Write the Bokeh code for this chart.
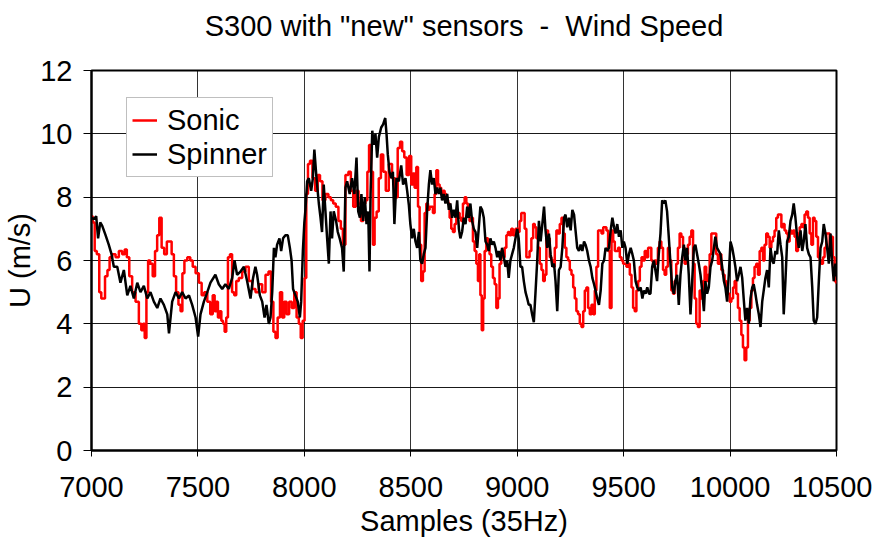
from bokeh.plotting import figure
from bokeh.models import Range1d, FixedTicker, Legend, LegendItem, Title
from bokeh.embed import file_html
from bokeh.resources import INLINE

FONT = "Liberation Sans"
FS = "29px"

title_text = 'S300 with "new" sensors \u00a0-\u00a0 Wind Speed'
x_label = "Samples (35Hz)"
y_label = "U (m/s)"
x_ticks = [7000, 7500, 8000, 8500, 9000, 9500, 10000, 10500]
y_ticks = [0, 2, 4, 6, 8, 10, 12]

# ---- Sonic anemometer (red) : sample index and wind speed (m/s) ----
sonic_samples = [
    7000, 7011, 7019, 7031, 7042, 7050, 7058, 7069, 7081, 7089, 7105, 7121, 7136, 7152, 7160,
    7172, 7183, 7199, 7215, 7230, 7238, 7246, 7254, 7262, 7270, 7282, 7293, 7304, 7313, 7324,
    7335, 7348, 7360, 7371, 7382, 7392, 7403, 7414, 7423, 7431, 7442, 7458, 7470, 7481, 7497,
    7512, 7523, 7536, 7552, 7564, 7575, 7582, 7590, 7598, 7606, 7614, 7622, 7629, 7637, 7645,
    7656, 7665, 7676, 7684, 7700, 7716, 7731, 7747, 7763, 7778, 7794, 7810, 7825, 7838, 7849,
    7860, 7869, 7880, 7891, 7900, 7911, 7922, 7935, 7947, 7958, 7969, 7979, 7987, 7997, 8005,
    8013, 8021, 8032, 8044, 8057, 8068, 8079, 8091, 8107, 8119, 8130, 8141, 8154, 8166, 8177,
    8185, 8201, 8213, 8224, 8235, 8248, 8261, 8271, 8282, 8292, 8300, 8308, 8319, 8326, 8334,
    8345, 8354, 8365, 8376, 8389, 8404, 8420, 8433, 8444, 8455, 8464, 8475, 8486, 8498, 8506,
    8514, 8522, 8530, 8538, 8545, 8553, 8561, 8569, 8577, 8585, 8592, 8600, 8608, 8616, 8624,
    8632, 8639, 8647, 8655, 8663, 8671, 8679, 8686, 8694, 8702, 8710, 8718, 8726, 8733, 8741,
    8749, 8757, 8765, 8772, 8780, 8788, 8796, 8804, 8812, 8819, 8824, 8830, 8837, 8843, 8851,
    8859, 8866, 8874, 8882, 8890, 8898, 8906, 8913, 8921, 8929, 8937, 8945, 8953, 8960, 8968,
    8976, 8984, 9000, 9007, 9015, 9023, 9031, 9039, 9047, 9054, 9062, 9071, 9079, 9086, 9094,
    9102, 9110, 9118, 9126, 9133, 9141, 9149, 9157, 9165, 9173, 9180, 9188, 9196, 9204, 9212,
    9220, 9227, 9235, 9243, 9251, 9259, 9267, 9274, 9282, 9290, 9298, 9306, 9314, 9321, 9329,
    9337, 9345, 9353, 9361, 9368, 9376, 9384, 9392, 9400, 9408, 9415, 9423, 9431, 9439, 9447,
    9455, 9462, 9470, 9478, 9486, 9494, 9501, 9509, 9517, 9525, 9533, 9541, 9548, 9556, 9564,
    9572, 9580, 9588, 9595, 9603, 9611, 9619, 9626, 9634, 9642, 9649, 9657, 9665, 9673, 9681,
    9689, 9696, 9704, 9712, 9720, 9728, 9736, 9743, 9751, 9759, 9767, 9775, 9783, 9790, 9798,
    9806, 9814, 9822, 9830, 9837, 9845, 9853, 9861, 9869, 9877, 9884, 9892, 9900, 9908, 9916,
    9924, 9931, 9939, 9947, 9955, 9963, 9971, 9978, 9986, 9994, 10002, 10010, 10018, 10025, 10033,
    10041, 10049, 10057, 10064, 10072, 10080, 10088, 10096, 10104, 10111, 10119, 10127, 10135, 10143, 10151,
    10158, 10166, 10174, 10182, 10190, 10198, 10205, 10213, 10221, 10229, 10237, 10245, 10252, 10260, 10268,
    10276, 10284, 10292, 10299, 10307, 10315, 10323, 10331, 10339, 10346, 10354, 10362, 10370, 10378, 10386,
    10393, 10401, 10409, 10417, 10425, 10433, 10440, 10448, 10456, 10464, 10472, 10479, 10487, 10495, 10500,
]
sonic_speed = [
    7.4, 7.2, 6.3, 6.2, 5.0, 4.8, 4.8, 5.5, 5.7, 6.1, 6.2, 6.1, 6.3, 6.2, 6.35,
    6.1, 5.5, 5.0, 4.7, 4.0, 3.8, 4.0, 3.55, 5.0, 6.0, 5.9, 5.5, 6.3, 6.8, 7.35,
    6.4, 6.2, 6.6, 6.6, 6.2, 5.5, 5.0, 4.6, 4.4, 5.6, 6.0, 6.1, 6.0, 5.8, 5.6,
    5.3, 4.9, 5.0, 4.7, 4.3, 4.9, 4.4, 4.7, 4.2, 4.4, 4.1, 4.0, 3.75, 4.2, 6.1,
    6.2, 5.0, 4.9, 5.35, 5.45, 5.65, 5.8, 5.35, 5.1, 5.0, 5.25, 5.0, 5.55, 5.65, 4.7,
    3.75, 3.55, 4.2, 5.0, 4.2, 4.7, 4.3, 4.7, 4.5, 5.0, 4.2, 4.0, 3.55, 4.1, 5.45,
    8.1, 9.05, 9.15, 8.6, 8.2, 8.7, 8.5, 7.9, 8.1, 8.0, 7.9, 7.8, 7.7, 7.25, 7.0,
    6.5, 8.7, 8.8, 8.2, 7.7, 8.2, 7.8, 7.25, 7.8, 7.9, 8.8, 9.65, 8.8, 6.5, 7.35,
    7.55, 8.6, 9.35, 8.8, 8.2, 9.05, 8.6, 8.0, 9.55, 9.75, 9.45, 9.25, 8.7, 9.3, 8.4,
    8.75, 8.3, 8.95, 7.7, 6.5, 5.35, 5.65, 7.5, 7.8, 7.6, 7.7, 7.7, 7.5, 8.1, 8.85,
    8.4, 8.3, 8.1, 8.2, 8.1, 7.9, 7.8, 7.35, 7.0, 6.9, 7.15, 7.35, 7.5, 7.35, 7.25,
    7.8, 8.0, 7.8, 7.5, 7.25, 7.35, 6.6, 6.3, 5.9, 5.35, 6.2, 4.9, 3.8, 4.8, 6.3,
    6.7, 6.5, 6.2, 5.8, 5.45, 5.25, 4.5, 4.8, 5.9, 6.3, 6.1, 6.4, 6.8, 6.9, 6.8,
    7.0, 6.8, 7.0, 6.9, 7.25, 7.5, 7.5, 7.0, 6.1, 6.1, 6.3, 6.7, 7.15, 7.05, 6.7,
    6.4, 5.9, 5.7, 5.35, 5.55, 6.95, 6.7, 6.1, 6.0, 5.8, 6.4, 6.95, 6.85, 7.15, 7.35,
    6.85, 6.4, 6.1, 6.0, 5.7, 5.55, 5.15, 4.8, 4.4, 4.3, 4.0, 3.9, 4.4, 5.05, 5.15,
    4.5, 4.3, 4.6, 4.3, 5.05, 5.8, 6.95, 6.95, 6.85, 7.05, 7.05, 6.95, 6.3, 4.5, 6.95,
    6.6, 6.3, 6.3, 6.4, 6.1, 6.0, 5.9, 5.9, 5.8, 5.9, 5.55, 5.15, 4.5, 4.4, 5.05,
    5.35, 5.8, 6.1, 6.0, 6.3, 6.1, 6.4, 6.4, 6.0, 5.8, 6.0, 5.9, 6.4, 6.6, 6.4,
    5.7, 5.55, 5.8, 6.4, 6.0, 5.05, 4.95, 5.35, 5.9, 6.4, 6.85, 6.75, 6.4, 5.9, 6.2,
    6.5, 6.75, 6.95, 5.9, 4.8, 4.0, 3.9, 5.05, 4.8, 5.35, 5.8, 5.35, 5.55, 6.2, 6.85,
    6.85, 6.85, 6.2, 5.9, 6.2, 5.7, 5.55, 5.35, 5.15, 4.95, 4.7, 4.8, 5.15, 5.35, 4.95,
    4.5, 4.1, 3.65, 3.25, 2.85, 3.25, 4.1, 4.5, 5.05, 5.45, 5.8, 5.9, 5.55, 6.3, 6.4,
    6.0, 6.5, 6.85, 6.75, 6.4, 6.6, 6.75, 6.95, 7.35, 7.45, 7.45, 7.05, 7.15, 6.95, 6.85,
    6.6, 6.95, 6.85, 6.95, 6.75, 6.3, 6.85, 7.05, 7.15, 7.05, 7.45, 7.55, 7.35, 6.85, 6.5,
    7.35, 7.25, 6.75, 6.1, 6.0, 5.9, 6.1, 6.4, 6.85, 6.85, 6.4, 6.75, 6.1, 5.35, 5.3,
]

# ---- Spinner (black) : sample index and wind speed (m/s) ----
spinner_samples = [
    7000, 7011, 7022, 7031, 7041, 7050, 7066, 7081, 7094, 7105, 7121, 7136, 7152, 7168, 7183,
    7199, 7215, 7230, 7246, 7262, 7277, 7293, 7309, 7324, 7340, 7356, 7364, 7379, 7395, 7411,
    7426, 7442, 7458, 7473, 7489, 7501, 7512, 7528, 7544, 7559, 7582, 7598, 7614, 7629, 7645,
    7661, 7672, 7684, 7700, 7716, 7731, 7747, 7759, 7770, 7778, 7791, 7802, 7813, 7822, 7833,
    7841, 7849, 7857, 7864, 7872, 7883, 7891, 7900, 7911, 7922, 7932, 7940, 7947, 7958, 7969,
    7979, 7985, 7993, 8000, 8005, 8013, 8021, 8032, 8040, 8047, 8057, 8068, 8076, 8083, 8091,
    8099, 8107, 8115, 8123, 8130, 8138, 8149, 8157, 8166, 8177, 8185, 8193, 8201, 8213, 8224,
    8235, 8245, 8253, 8261, 8268, 8276, 8284, 8292, 8300, 8306, 8311, 8319, 8326, 8334, 8342,
    8350, 8361, 8370, 8380, 8386, 8392, 8400, 8408, 8416, 8423, 8433, 8444, 8455, 8464, 8475,
    8483, 8491, 8498, 8506, 8514, 8522, 8530, 8538, 8545, 8553, 8561, 8569, 8577, 8585, 8592,
    8600, 8608, 8616, 8624, 8632, 8639, 8647, 8655, 8663, 8671, 8679, 8686, 8694, 8702, 8710,
    8718, 8726, 8733, 8741, 8749, 8757, 8765, 8772, 8780, 8788, 8796, 8804, 8812, 8819, 8827,
    8835, 8843, 8851, 8859, 8866, 8874, 8882, 8890, 8898, 8906, 8913, 8921, 8929, 8937, 8945,
    8953, 8960, 8968, 8976, 8984, 8992, 9000, 9007, 9015, 9023, 9031, 9039, 9047, 9054, 9062,
    9070, 9078, 9086, 9094, 9102, 9110, 9118, 9126, 9133, 9141, 9149, 9157, 9165, 9173, 9180,
    9188, 9196, 9204, 9212, 9220, 9227, 9235, 9243, 9251, 9259, 9267, 9274, 9282, 9290, 9298,
    9306, 9314, 9321, 9329, 9337, 9345, 9353, 9361, 9368, 9376, 9384, 9392, 9400, 9408, 9415,
    9423, 9431, 9439, 9447, 9455, 9462, 9470, 9478, 9486, 9494, 9501, 9509, 9517, 9525, 9533,
    9541, 9548, 9556, 9564, 9572, 9580, 9588, 9595, 9603, 9611, 9619, 9626, 9634, 9642, 9649,
    9657, 9665, 9673, 9681, 9689, 9696, 9704, 9712, 9720, 9728, 9736, 9743, 9751, 9759, 9767,
    9775, 9783, 9790, 9798, 9806, 9814, 9822, 9830, 9837, 9845, 9853, 9861, 9869, 9877, 9884,
    9892, 9900, 9908, 9916, 9924, 9931, 9939, 9947, 9955, 9963, 9971, 9978, 9986, 9994, 10002,
    10010, 10018, 10025, 10033, 10041, 10049, 10057, 10064, 10072, 10080, 10088, 10096, 10104, 10111, 10119,
    10127, 10135, 10143, 10151, 10158, 10166, 10174, 10182, 10190, 10198, 10205, 10213, 10221, 10229, 10237,
    10245, 10252, 10260, 10268, 10276, 10284, 10292, 10299, 10307, 10315, 10323, 10331, 10339, 10346, 10354,
    10362, 10370, 10378, 10386, 10393, 10401, 10409, 10417, 10425, 10433, 10440, 10448, 10456, 10464, 10472,
    10479, 10487, 10495, 10500,
]
spinner_speed = [
    7.35, 7.3, 7.4, 6.7, 7.2, 7.1, 6.8, 6.5, 6.2, 5.8, 5.8, 5.3, 5.7, 4.9, 5.2,
    4.8, 5.3, 5.0, 5.2, 4.8, 5.0, 4.7, 4.5, 4.8, 4.6, 4.3, 3.7, 4.7, 5.0, 4.8,
    5.0, 4.8, 4.9, 4.6, 4.2, 3.6, 4.3, 4.7, 5.0, 5.3, 5.55, 5.25, 5.1, 5.25, 5.1,
    5.45, 6.0, 5.55, 5.65, 5.8, 5.35, 4.8, 5.45, 5.8, 5.55, 4.9, 4.7, 4.2, 4.6, 4.0,
    4.2, 5.0, 6.4, 6.1, 6.5, 6.7, 6.3, 6.7, 6.8, 6.8, 6.4, 6.0, 5.1, 4.9, 4.7,
    4.2, 4.7, 6.3, 7.2, 7.6, 8.5, 8.6, 8.2, 8.6, 9.5, 8.6, 7.8, 7.35, 6.9, 8.4,
    7.55, 6.7, 5.9, 7.55, 6.7, 7.55, 7.25, 6.9, 6.7, 6.4, 5.65, 8.3, 8.5, 8.1, 8.6,
    8.1, 9.25, 7.55, 7.35, 8.1, 7.25, 8.0, 7.15, 7.55, 5.65, 8.1, 10.1, 9.65, 10.0, 9.25,
    9.9, 10.2, 10.3, 10.5, 10.0, 9.35, 8.8, 8.6, 8.8, 7.15, 8.6, 8.5, 9.0, 8.4, 8.6,
    8.2, 7.75, 7.15, 6.7, 7.0, 6.6, 6.4, 6.9, 6.0, 5.9, 6.2, 6.4, 7.6, 8.4, 8.85,
    8.4, 8.6, 8.1, 8.3, 8.1, 8.3, 7.9, 8.1, 7.8, 8.1, 7.6, 7.8, 7.35, 7.6, 7.35,
    7.9, 7.0, 6.7, 6.9, 7.35, 7.15, 7.7, 7.35, 7.8, 7.25, 7.0, 6.9, 6.4, 7.0, 7.7,
    7.6, 7.35, 6.6, 6.5, 6.3, 6.7, 6.5, 6.6, 6.4, 6.1, 6.3, 6.0, 6.4, 6.1, 5.8,
    6.0, 5.45, 6.0, 6.2, 6.4, 6.7, 7.0, 6.7, 5.8, 5.8, 5.35, 5.0, 4.8, 4.6, 4.6,
    4.3, 4.05, 5.0, 6.0, 7.25, 6.6, 7.15, 7.7, 6.95, 6.4, 6.85, 6.2, 5.8, 5.9, 5.35,
    4.4, 5.7, 5.8, 6.4, 7.35, 7.45, 7.05, 7.35, 6.95, 7.6, 7.45, 6.95, 6.4, 6.3, 6.5,
    6.3, 6.6, 6.5, 6.3, 6.0, 5.8, 5.45, 5.25, 5.05, 4.8, 4.6, 5.05, 5.9, 6.0, 6.4,
    6.3, 6.4, 6.95, 7.35, 7.05, 6.85, 7.15, 6.75, 6.95, 6.4, 6.6, 6.4, 5.9, 6.2, 6.4,
    6.2, 6.0, 5.35, 5.15, 5.05, 5.15, 4.8, 5.05, 4.95, 5.15, 4.95, 4.95, 5.8, 6.0, 5.7,
    5.35, 6.2, 6.85, 7.9, 7.8, 7.9, 7.55, 6.75, 5.9, 5.15, 4.95, 5.35, 5.55, 4.6, 5.55,
    6.1, 6.5, 6.0, 6.4, 5.55, 4.3, 5.35, 6.4, 6.5, 6.2, 5.9, 5.55, 5.05, 4.4, 5.35,
    4.95, 5.15, 5.8, 6.0, 6.4, 6.75, 6.4, 6.3, 6.2, 5.8, 5.35, 5.15, 4.7, 5.55, 6.6,
    6.4, 6.1, 5.8, 5.35, 5.55, 5.8, 5.45, 4.8, 4.1, 4.5, 4.0, 4.8, 5.15, 5.25, 4.95,
    4.6, 4.3, 3.9, 4.7, 5.05, 5.45, 5.7, 5.15, 6.4, 6.0, 5.9, 6.3, 6.2, 6.95, 6.5,
    6.1, 4.3, 5.35, 6.6, 6.75, 7.25, 7.45, 7.8, 7.35, 6.75, 6.4, 6.95, 6.3, 6.6, 7.15,
    6.4, 6.2, 6.1, 5.15, 4.1, 4.0, 4.2, 5.35, 6.4, 6.6, 7.15, 6.85, 6.4, 5.9, 6.85,
    6.0, 5.35, 5.9, 5.5,
]

W, H = 872, 539
p = figure(
    width=W, height=H,
    output_backend="svg", toolbar_location=None,
    x_range=Range1d(7000, 10500), y_range=Range1d(0, 12),
    min_border_left=91, min_border_right=W - 836,
    min_border_top=70, min_border_bottom=H - 450,
    background_fill_color="white", border_fill_color="white",
)

p.outline_line_color = "black"
p.outline_line_width = 2

for ax in (p.xaxis[0], p.yaxis[0]):
    ax.axis_line_color = "black"
    ax.axis_line_width = 2
    ax.major_tick_line_color = "black"
    ax.major_tick_line_width = 1
    ax.minor_tick_line_color = None
    ax.major_tick_in = 0
    ax.major_label_text_font = FONT
    ax.major_label_text_font_size = FS
    ax.major_label_text_color = "black"
    ax.axis_label_text_font = FONT
    ax.axis_label_text_font_size = FS
    ax.axis_label_text_font_style = "normal"
    ax.axis_label_text_color = "black"

p.xaxis.ticker = FixedTicker(ticks=x_ticks)
p.yaxis.ticker = FixedTicker(ticks=y_ticks)
p.xaxis.axis_label = x_label
p.yaxis.axis_label = y_label
p.xaxis.major_tick_out = 6
p.yaxis.major_tick_out = 8
p.xaxis.major_label_standoff = 20
p.yaxis.major_label_standoff = 11
p.xaxis.axis_label_standoff = 5
p.yaxis.axis_label_standoff = 1

p.xgrid.grid_line_color = "black"
p.ygrid.grid_line_color = "black"
p.xgrid.grid_line_width = 1
p.ygrid.grid_line_width = 1
p.xgrid.grid_line_alpha = 0.8
p.ygrid.grid_line_alpha = 0.9

r_sonic = p.step(sonic_samples, sonic_speed, mode="center",
                 line_color="#FF0000", line_width=2.5)
r_spin = p.line(spinner_samples, spinner_speed, line_color="black", line_width=2.5)

legend = Legend(
    items=[LegendItem(label="Sonic", renderers=[r_sonic]),
           LegendItem(label="Spinner", renderers=[r_spin])],
    location=(35, 273),
    label_text_font=FONT, label_text_font_size=FS, label_text_color="black",
    label_height=34, glyph_height=34, glyph_width=25, label_standoff=10,
    padding=5, spacing=0, margin=0,
    border_line_color="#808080", border_line_width=1,
    background_fill_color="white", background_fill_alpha=1.0,
)
p.add_layout(legend)

# spacer between frame and title (first item added is nearest the frame)
spacer = Title(text="\u00a0", text_font_size="1px", standoff=26)
p.add_layout(spacer, "above")
main_title = Title(
    text=title_text, text_font=FONT, text_font_size=FS,
    text_font_style="normal", text_color="black",
    align="center", vertical_align="bottom", standoff=0,
)
p.add_layout(main_title, "above")

open("out.html", "w").write(file_html(p, INLINE))
